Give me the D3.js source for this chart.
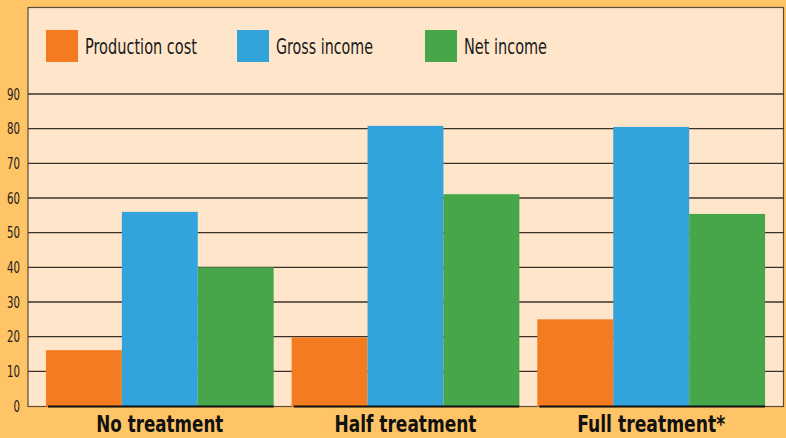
<!DOCTYPE html>
<html><head><meta charset="utf-8">
<script src="https://cdn.jsdelivr.net/npm/d3@7"></script>
<style>
body{margin:0;background:#FEC466;}
svg{display:block;}
</style></head>
<body>
<svg id="chart" width="786" height="438"></svg>
<script>
const categories = ["No treatment", "Half treatment", "Full treatment*"];
const seriesNames = ["Production cost", "Gross income", "Net income"];
const productionCost = [16.1, 19.8, 25.0];
const grossIncome = [56.0, 80.8, 80.5];
const netIncome = [40.0, 61.1, 55.4];
const yTicks = [0, 10, 20, 30, 40, 50, 60, 70, 80, 90];
const colors = ["#F47B20", "#33A3DB", "#47A64A"];

const series = [productionCost, grossIncome, netIncome];
const FONT = "'DejaVu Sans Condensed', 'Liberation Sans Narrow', sans-serif";
const svg = d3.select("#chart");
const W = 786, H = 438;
const panel = {left: 28, right: 783.5, top: 7.5, bottom: 406.5};

svg.append("rect").attr("width", W).attr("height", H).attr("fill", "#FEC466");
svg.append("rect")
  .attr("x", panel.left).attr("y", panel.top)
  .attr("width", panel.right - panel.left).attr("height", panel.bottom - panel.top)
  .attr("fill", "#FFE6CB").attr("stroke", "#5b4b3d").attr("stroke-width", 1.2);

const y = d3.scaleLinear().domain([0, 90]).range([406, 94]);
const x0 = d3.scaleBand().domain(categories).range([28, 783]).paddingInner(0.073).paddingOuter(0.073);
const x1 = d3.scaleBand().domain(seriesNames).range([0, x0.bandwidth()]);

// gridlines
svg.append("g").selectAll("line").data(yTicks.filter(d => d > 0)).join("line")
  .attr("x1", panel.left).attr("x2", panel.right)
  .attr("y1", d => y(d)).attr("y2", d => y(d))
  .attr("stroke", "#3b3128").attr("stroke-width", 1.3);

// y axis labels
const yAxis = d3.axisLeft(y).tickValues(yTicks).tickSize(0).tickPadding(8);
const ya = svg.append("g").attr("transform", `translate(${panel.left},0)`).call(yAxis);
ya.select(".domain").remove();
ya.selectAll("text").attr("font-family", FONT)
  .attr("font-size", 16).attr("fill", "#1a1a1a").attr("x", -8)
  .attr("textLength", d => String(d).length * 6.5).attr("lengthAdjust", "spacingAndGlyphs");

// bars
const groups = svg.append("g").selectAll("g").data(categories).join("g")
  .attr("transform", d => `translate(${x0(d)},0)`);
groups.selectAll("rect").data((d, i) => seriesNames.map((s, j) => ({s, v: series[j][i], c: colors[j]})))
  .join("rect")
  .attr("x", d => x1(d.s)).attr("width", x1.bandwidth())
  .attr("y", d => y(d.v)).attr("height", d => y(0) - y(d.v) + 1)
  .attr("fill", d => d.c);
// baseline under bars
groups.append("line")
  .attr("x1", 2).attr("x2", x0.bandwidth())
  .attr("y1", 406.5).attr("y2", 406.5)
  .attr("stroke", "#111").attr("stroke-width", 2);

// x axis labels
const catWidths = [127, 142, 148];
const xAxis = d3.axisBottom(x0).tickSize(0).tickPadding(0);
const xa = svg.append("g").attr("transform", "translate(0,432)").call(xAxis);
xa.select(".domain").remove();
xa.selectAll("text").attr("dy", 0).attr("y", 0)
  .attr("font-family", FONT)
  .attr("font-weight", "bold").attr("font-size", 23).attr("fill", "#111")
  .attr("textLength", (d, i) => catWidths[i]).attr("lengthAdjust", "spacingAndGlyphs");

// legend
const legendX = [46, 237, 425];
const legendTextW = [112, 97, 83];
const leg = svg.append("g").selectAll("g").data(seriesNames).join("g")
  .attr("transform", (d, i) => `translate(${legendX[i]},30)`);
leg.append("rect").attr("width", 32).attr("height", 32).attr("fill", (d, i) => colors[i]);
leg.append("text").attr("x", 39).attr("y", 24).text(d => d)
  .attr("font-family", FONT)
  .attr("font-size", 22).attr("fill", "#1a1a1a")
  .attr("textLength", (d, i) => legendTextW[i]).attr("lengthAdjust", "spacingAndGlyphs");
</script>
</body></html>
